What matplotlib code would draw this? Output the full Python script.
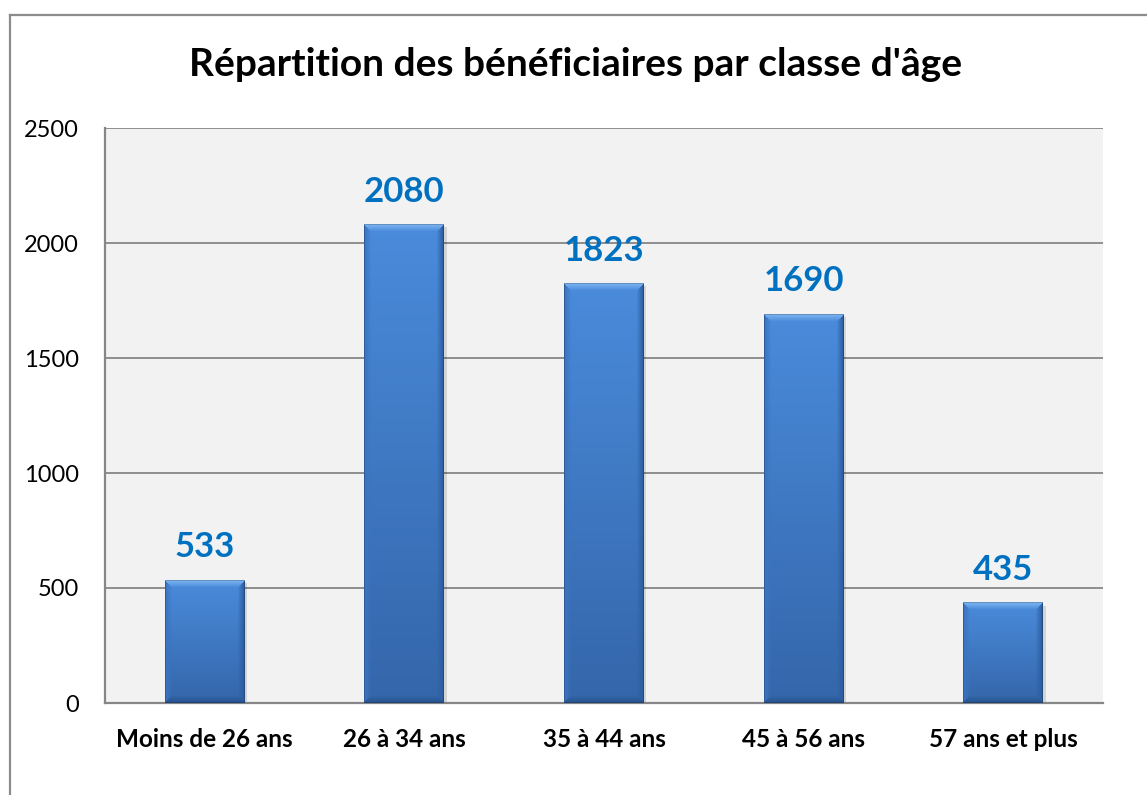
import numpy as np
import matplotlib.pyplot as plt
from matplotlib.colors import to_rgb
from matplotlib.lines import Line2D

# Données du graphique
categories = ["Moins de 26 ans", "26 à 34 ans", "35 à 44 ans", "45 à 56 ans", "57 ans et plus"]
values = [533, 2080, 1823, 1690, 435]
yticks = [0, 500, 1000, 1500, 2000, 2500]
title = "Répartition des bénéficiaires par classe d'âge"

plt.rcParams['font.family'] = ['Lato', 'DejaVu Sans']

W, H = 1147, 795
fig = plt.figure(figsize=(W / 100, H / 100), dpi=100)
fig.patch.set_facecolor('white')

# cadre du graphique (haut + gauche)
fig.add_artist(Line2D([9.5 / W, 9.5 / W], [0, 1 - 15 / H], transform=fig.transFigure, color='#8c8c8c', lw=1.6))
fig.add_artist(Line2D([9.5 / W, 1], [1 - 15 / H, 1 - 15 / H], transform=fig.transFigure, color='#8c8c8c', lw=1.6))

ax = fig.add_axes([105 / W, 1 - 703 / H, 998 / W, 575 / H])
ax.set_facecolor('#f2f2f2')


# image d'une barre avec biseau
def bar_image(w, h, b=7):
    h = max(int(round(h)), 3)
    w = int(round(w))
    yy, xx = np.mgrid[0:h, 0:w]
    t = yy / (h - 1)
    top, bot = np.array(to_rgb('#4a8bdb')), np.array(to_rgb('#3466aa'))
    img = top[None, None, :] * (1 - t[..., None]) + bot[None, None, :] * t[..., None]
    d = np.stack([yy, h - 1 - yy, xx, w - 1 - xx])  # haut, bas, gauche, droite
    side = d.argmin(axis=0)
    dmin = d.min(axis=0)
    edge_cols = [np.array(to_rgb(c)) for c in ['#7db5f2', '#27548f', '#3b74bf', '#2c5d9e']]
    for k in range(4):
        m = (side == k) & (dmin < b)
        f = (dmin[m] / b)[:, None]
        img[m] = edge_cols[k] * (1 - f) + img[m] * f
    # contour fin
    m = dmin < 1
    img[m] = img[m] * 0.8
    return img


px_per_x = 998 / 5
px_per_y = 575 / 2500
bw = 0.4
for i, v in enumerate(values):
    # ombre
    ax.bar(i + 0.012, v, width=bw, bottom=-12, color='#000000', alpha=0.12, zorder=2)
    img = bar_image(bw * px_per_x, v * px_per_y)
    ax.imshow(img, extent=(i - bw / 2, i + bw / 2, 0, v), aspect='auto', zorder=3, interpolation='bilinear')
    ax.text(i, v + 100, str(v), ha='center', va='baseline', color='#0070c0',
            fontsize=25, fontweight='bold', zorder=4)

ax.set_xlim(-0.5, len(values) - 0.5)
ax.set_ylim(0, 2500)
ax.set_yticks(yticks)
ax.set_yticklabels([str(t) for t in yticks], fontsize=17)
ax.set_xticks(range(len(categories)))
ax.set_xticklabels(categories, fontsize=17.5, fontweight='bold')
ax.tick_params(axis='both', length=0)
ax.tick_params(axis='y', pad=19)
ax.tick_params(axis='x', pad=18)
ax.yaxis.grid(True, color='#868686', lw=1.3)
ax.set_axisbelow(True)
for s in ['top', 'right']:
    ax.spines[s].set_visible(False)
for s in ['left', 'bottom']:
    ax.spines[s].set_color('#868686')
    ax.spines[s].set_linewidth(1.6)

fig.text(0.502, 1 - 65 / H, title, ha='center', va='center', fontsize=28, fontweight='bold')

fig.savefig('out.png', dpi=100)
